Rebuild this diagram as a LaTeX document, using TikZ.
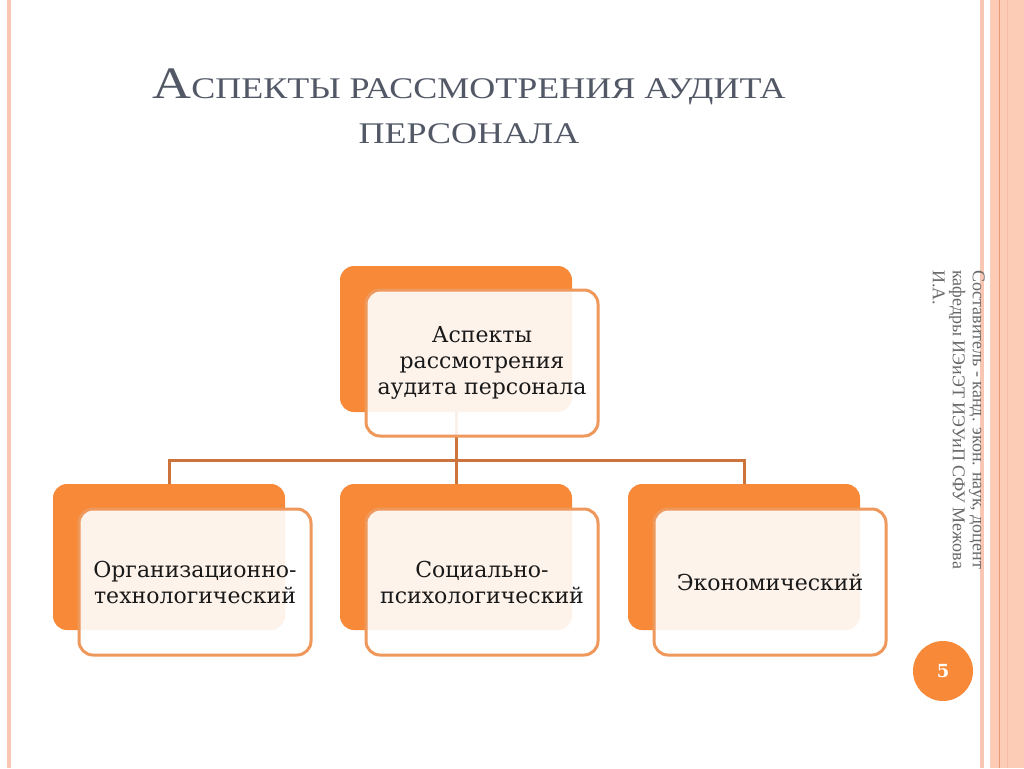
\documentclass[tikz,border=0pt]{standalone}
\usepackage{fontspec}
\usepackage{graphicx}
\setmainfont{DejaVu Serif}
\newfontfamily\titlefont{Liberation Serif}
\usetikzlibrary{calc}
\definecolor{boxorange}{RGB}{247,137,57}
\definecolor{edgeorange}{RGB}{238,152,92}
\definecolor{linkbrown}{RGB}{205,115,60}
\definecolor{titlegray}{RGB}{82,88,102}
\definecolor{notegray}{RGB}{105,105,105}
\definecolor{stripepink}{RGB}{250,198,180}
\definecolor{stripepeach}{RGB}{253,204,182}
\definecolor{stripeline}{RGB}{236,150,115}
\def\bigfirst#1#2{\scalebox{1.2}[1]{{\fontsize{45}{45}\selectfont #1}#2}}
\tikzset{
  backbox/.style={rectangle, rounded corners=14pt, fill=boxorange,
    minimum width=232pt, minimum height=146pt},
  frontbox/.style={rectangle, rounded corners=14pt, draw=edgeorange,
    line width=3pt, fill=white, fill opacity=0.9, text opacity=1,
    minimum width=232pt, minimum height=146pt, align=center,
    font=\fontsize{22}{26}\selectfont, text=black!90},
  link/.style={draw=linkbrown, line width=3pt},
}

\begin{document}
\begin{tikzpicture}[x=1pt, y=-1pt]
		%%%%% FRAME %%%%%
		\useasboundingbox (0, 0) rectangle (1024, 768);
		\fill[white] (0, 0) rectangle (1024, 768);
		\fill[stripepink] (7, 0) rectangle (11, 768);
		\fill[stripepink] (980, 0) rectangle (984, 768);
		\fill[stripepeach] (990, 0) rectangle (1024, 768);
		\draw[stripeline, line width=1pt] (999, 0) -- (999, 768);
		\draw[stripepink!80!stripeline, line width=0.6pt] (1007, 0) -- (1007, 768);
		
		%%%%% TITLE %%%%%
		\node[text=titlegray, align=center, anchor=base,
			font=\titlefont\fontsize{30}{45}\selectfont] (title) at (469, 143)
			{\bigfirst{А}{СПЕКТЫ РАССМОТРЕНИЯ АУДИТА}\\
			 \bigfirst{}{ПЕРСОНАЛА}};
		
		%%%%% BOXES %%%%%
		\node[backbox] (topback) at (456, 339) {};
		\node[backbox] (leftback) at (169, 557) {};
		\node[backbox] (midback) at (456, 557) {};
		\node[backbox] (rightback) at (744, 557) {};
		
		\coordinate (bar) at (456, 460);
		\draw[link] (topback.south) -- (midback.north);
		\draw[link] (leftback.north) |- (bar) -| (rightback.north);
		
		\node[frontbox] (topfront) at ($(topback)+(26, 24)$)
			{Аспекты\\рассмотрения\\аудита персонала};
		\node[frontbox] (leftfront) at ($(leftback)+(26, 25)$)
			{Организационно-\\технологический};
		\node[frontbox] (midfront) at ($(midback)+(26, 25)$)
			{Социально-\\психологический};
		\node[frontbox] (rightfront) at ($(rightback)+(26, 25)$)
			{Экономический};
		
		%%%%% SIDE NOTE %%%%%
		\node[rotate=-90, anchor=north west, align=left, text=notegray,
			font=\titlefont\fontsize{18}{20}\selectfont, inner sep=0pt] (author) at (985, 270)
			{Составитель - канд. экон. наук, доцент\\кафедры ИЭиЭТ ИЭУиП СФУ Межова\\И.А.};
		
		\node[circle, fill=boxorange, minimum size=60pt, text=white,
			font=\fontsize{18}{18}\selectfont\bfseries] (page) at (943, 671) {5};
		%%%%% END %%%%%
	\end{tikzpicture}
\end{document}
